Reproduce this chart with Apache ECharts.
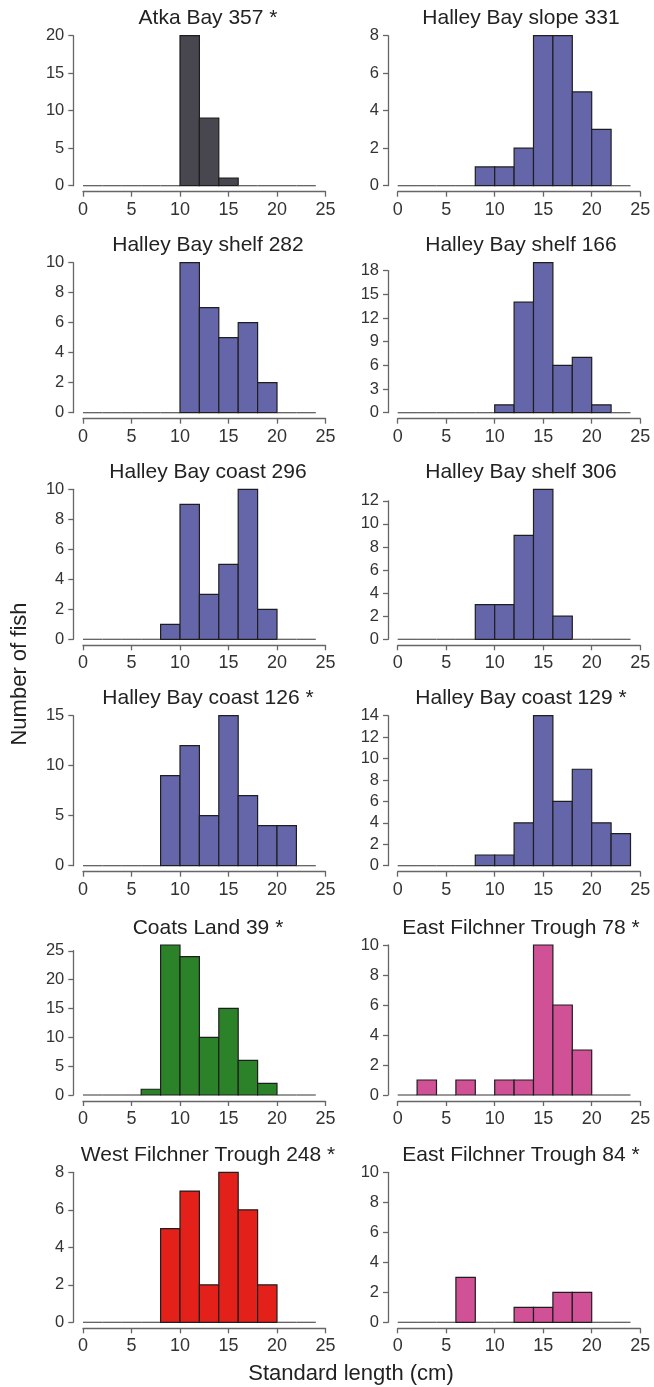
<!DOCTYPE html>
<html>
<head>
<meta charset="utf-8">
<script src="https://cdn.jsdelivr.net/npm/echarts@6/dist/echarts.min.js"></script>
<style>
html,body{margin:0;padding:0;background:#fff;}
#chart{width:654px;height:1387px;}
</style>
</head>
<body>
<div id="chart"></div>
<script>
// ---- data ----
const binEdges = [0,2,4,6,8,10,12,14,16,18,20,22,24];
const panelTitles = [
  'Atka Bay 357 *', 'Halley Bay slope 331',
  'Halley Bay shelf 282', 'Halley Bay shelf 166',
  'Halley Bay coast 296', 'Halley Bay shelf 306',
  'Halley Bay coast 126 *', 'Halley Bay coast 129 *',
  'Coats Land 39 *', 'East Filchner Trough 78 *',
  'West Filchner Trough 248 *', 'East Filchner Trough 84 *'
];
const countsAtka357   = [0,0,0,0,0,20,9,1,0,0,0,0];
const countsSlope331  = [0,0,0,0,1,1,2,8,8,5,3,0];
const countsShelf282  = [0,0,0,0,0,10,7,5,6,2,0,0];
const countsShelf166  = [0,0,0,0,0,1,14,19,6,7,1,0];
const countsCoast296  = [0,0,0,0,1,9,3,5,10,2,0,0];
const countsShelf306  = [0,0,0,0,3,3,9,13,2,0,0,0];
const countsCoast126  = [0,0,0,0,9,12,5,15,7,4,4,0];
const countsCoast129  = [0,0,0,0,1,1,4,14,6,9,4,3];
const countsCoats39   = [0,0,0,1,26,24,10,15,6,2,0,0];
const countsEFT78     = [0,1,0,1,0,1,1,10,6,3,0,0];
const countsWFT248    = [0,0,0,0,5,7,2,8,6,2,0,0];
const countsEFT84     = [0,0,0,3,0,0,1,1,2,2,0,0];
const allCounts = [countsAtka357,countsSlope331,countsShelf282,countsShelf166,countsCoast296,countsShelf306,
                   countsCoast126,countsCoast129,countsCoats39,countsEFT78,countsWFT248,countsEFT84];
const yMax      = [20,8,10,19,10,13,15,14,26,10,8,10];
const yInterval = [5,2,2,3,2,2,5,2,5,2,2,2];
const xTickMax = 25, xTickInterval = 5;
const xAxisName = 'Standard length (cm)';
const yAxisName = 'Number of fish';

// ---- style / layout ----
const colors = ['#48474f','#6566aa','#6566aa','#6566aa','#6566aa','#6566aa',
                '#6566aa','#6566aa','#2b8229','#d05196','#e3211a','#d05196'];
const FONT = "'Liberation Sans', Arial, Helvetica, sans-serif";
const colX0 = [83, 397.7];
const unit = 9.7;
const rowBase = [185.7, 412.7, 639.3, 865.7, 1095, 1322.3];
const plotH = 150;
const titleCx = [208, 521];
const axisColor = '#666';
const labelColor = '#333';

const grids = [], xAxes = [], yAxes = [], series = [], graphics = [];

allCounts.forEach((counts, i) => {
  const col = i % 2, row = Math.floor(i / 2);
  const left = colX0[col], base = rowBase[row];
  const lastTick = Math.floor(yMax[i] / yInterval[i]) * yInterval[i];
  const hAxis = plotH * lastTick / yMax[i];
  grids.push({left: left, top: base - plotH, width: unit * xTickMax, height: plotH, containLabel: false});
  grids.push({left: left, top: base - hAxis, width: unit * xTickMax, height: hAxis, containLabel: false});
  const gData = grids.length - 2, gAx = grids.length - 1;
  xAxes.push({
    gridIndex: gData, type: 'value', min: 0, max: xTickMax, interval: xTickInterval, offset: 6,
    axisLine: {show: true, onZero: false, lineStyle: {color: axisColor, width: 1.3}},
    axisTick: {show: true, length: 5, lineStyle: {color: axisColor, width: 1.3}},
    axisLabel: {show: true, margin: 9, color: labelColor, fontSize: 18, fontFamily: FONT},
    splitLine: {show: false}
  });
  xAxes.push({gridIndex: gAx, type: 'value', min: 0, max: xTickMax, show: false});
  yAxes.push({gridIndex: gData, type: 'value', min: 0, max: yMax[i], show: false});
  yAxes.push({
    gridIndex: gAx, type: 'value', min: 0, max: lastTick, interval: yInterval[i], offset: unit,
    axisLine: {show: true, onZero: false, lineStyle: {color: axisColor, width: 1.3}},
    axisTick: {show: true, length: 5, lineStyle: {color: axisColor, width: 1.3}},
    axisLabel: {show: true, margin: 9, color: labelColor, fontSize: 16.5, fontFamily: FONT},
    splitLine: {show: false}
  });
  const data = counts.map((c, k) => [binEdges[k], binEdges[k + 1], c]);
  const fill = colors[i];
  series.push({
    type: 'custom', xAxisIndex: xAxes.length - 2, yAxisIndex: yAxes.length - 2,
    data: data, silent: true,
    renderItem: function (params, api) {
      const a = api.value(0), b = api.value(1), c = api.value(2);
      const p0 = api.coord([a, 0]), p1 = api.coord([b, c]);
      if (c === 0) {
        return {type: 'line', shape: {x1: p0[0], y1: p0[1], x2: p1[0], y2: p0[1]},
                style: {stroke: '#555', lineWidth: 1.2}};
      }
      return {type: 'rect',
              shape: {x: p0[0], y: p1[1], width: p1[0] - p0[0], height: p0[1] - p1[1]},
              style: {fill: fill, stroke: '#1e1e1e', lineWidth: 1.2}};
    }
  });
  graphics.push({type: 'text', x: titleCx[col], y: base - 167,
    style: {text: panelTitles[i], fill: '#222', font: '21px ' + FONT, textAlign: 'center', textVerticalAlign: 'middle'}});
});

graphics.push({type: 'text', x: 351, y: 1374,
  style: {text: xAxisName, fill: '#222', font: '22px ' + FONT, textAlign: 'center', textVerticalAlign: 'middle'}});
graphics.push({type: 'text', x: 20, y: 674, rotation: Math.PI / 2,
  style: {text: yAxisName, fill: '#222', font: '22px ' + FONT, textAlign: 'center', textVerticalAlign: 'middle'}});

const chart = echarts.init(document.getElementById('chart'), null, {renderer: 'canvas'});
chart.setOption({
  animation: false,
  backgroundColor: '#fff',
  grid: grids, xAxis: xAxes, yAxis: yAxes, series: series, graphic: graphics
});
</script>
</body>
</html>
